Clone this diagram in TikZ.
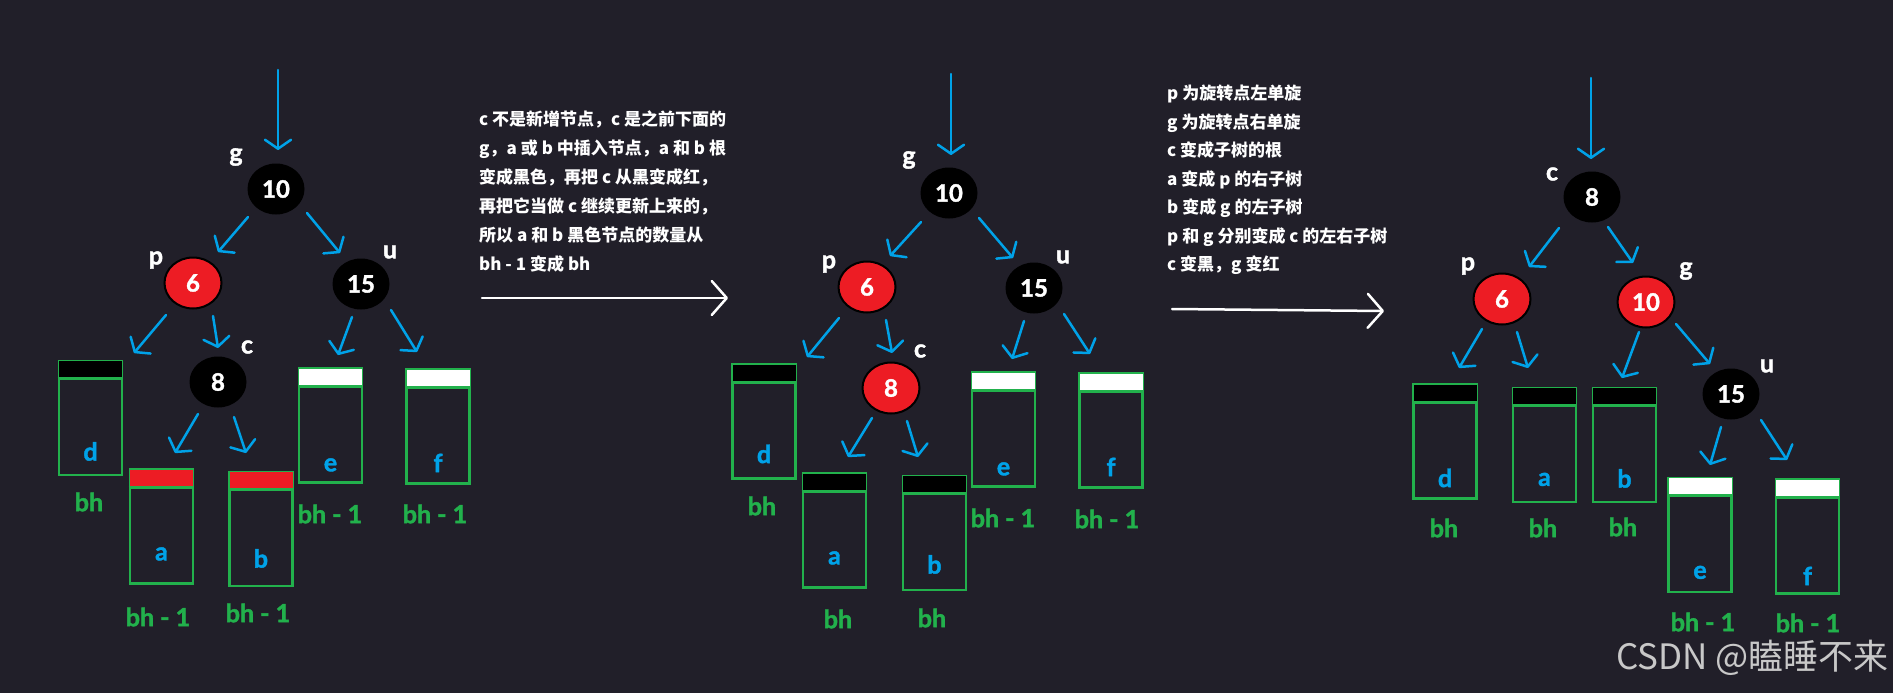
\documentclass[tikz,border=0pt]{standalone}
\usepackage{fontspec}
\setmainfont{Lato}[BoldFeatures={FakeBold=1.6}]
\newfontfamily\cjk{Noto Sans CJK SC}
\usetikzlibrary{shapes.geometric,arrows.meta,calc}
\definecolor{bgc}{RGB}{33,31,41}
\definecolor{pblue}{RGB}{0,162,232}
\definecolor{pred}{RGB}{237,28,36}
\definecolor{pgreen}{RGB}{34,177,76}
\definecolor{wmark}{RGB}{200,200,200}
\newcommand\mkleaf[8]{%
  \node[leafbox] (#1) at (#2,#3) {};
  \fill[#4] ([xshift=1.4pt,yshift=-1.4pt]#1.north west) rectangle ([xshift=-1.4pt,yshift=-19pt]#1.north east);
  \draw[boxline] ([yshift=-19pt]#1.north west) -- ([yshift=-19pt]#1.north east);
  \node[leaflab] (#1-l) at ([yshift=#6pt]#1.south) {#5};
  \node[bhlab] (#1-bh) at #8 {#7};
}
\begin{document}
\begin{tikzpicture}[x=1pt,y=-1pt,
  rbnode/.style={ellipse, minimum width=57pt, minimum height=51pt, inner sep=0pt, text=white, font=\fontsize{24}{24}\selectfont\bfseries},
  blacknode/.style={rbnode, fill=black},
  rednode/.style={rbnode, fill=pred, draw=black, line width=2pt},
  nlab/.style={text=white, font=\fontsize{25}{25}\selectfont\bfseries, inner sep=0pt},
  leafbox/.style={rectangle, draw=pgreen, line width=2.8pt, minimum width=63pt, minimum height=114pt, inner sep=0pt},
  boxline/.style={draw=pgreen, line width=2.8pt},
  leaflab/.style={text=pblue, font=\fontsize{25}{25}\selectfont\bfseries, inner sep=0pt},
  bhlab/.style={text=pgreen, font=\fontsize{25}{25}\selectfont\bfseries, inner sep=0pt},
  arr/.style={draw=pblue, line width=2.5pt, line cap=round, -{Straight Barb[length=9pt,width=26pt,round]}},
  warr/.style={draw=white, line width=2.5pt, line cap=round, -{Straight Barb[length=15pt,width=34pt,round]}},
  note/.style={text=white, align=left, inner sep=0pt, font=\cjk\bfseries\fontsize{17}{29}\selectfont}
]
\fill[bgc] (0,0) rectangle (1893,693);
\useasboundingbox (0,0) rectangle (1893,693);

% ---------------- Tree 1 ----------------
\node[blacknode] (g1) at (276,189) {10};
\node[rednode] (p1) at (193,283) {6};
\node[blacknode] (u1) at (361,284) {15};
\node[blacknode] (c1) at (218,382) {8};
\node[nlab] (g1l) at (236,157) {g};
\node[nlab] (p1l) at (156,260) {p};
\node[nlab] (u1l) at (390,252) {u};
\node[nlab] (c1l) at (247,347) {c};
\mkleaf{d1}{90.5}{418}{black}{d}{25}{bh}{(89,502)}
\mkleaf{a1}{161.5}{526.5}{pred}{a}{31}{bh - 1}{(158,617)}
\mkleaf{b1}{261}{529}{pred}{b}{29}{bh - 1}{(258,613)}
\mkleaf{e1}{330.5}{425.5}{white}{e}{19}{bh - 1}{(330,514)}
\mkleaf{f1}{438}{426.5}{white}{f}{22}{bh - 1}{(435,514)}
\coordinate (t1) at (278,70);
\draw[arr] (t1) -- ($(g1)+(2,-39)$);
\draw[arr] ($(g1)+(-28,28)$) -- ($(p1)+(25,-31)$);
\draw[arr] ($(g1)+(31,24)$) -- ($(u1)+(-21,-31)$);
\draw[arr] ($(p1)+(-27,32)$) -- ($(d1)+(43.5,-65)$);
\draw[arr] ($(p1)+(20,33)$) -- ($(c1)+(0,-34)$);
\draw[arr] ($(u1)+(-9,33)$) -- ($(e1)+(7.5,-70.5)$);
\draw[arr] ($(u1)+(30,26)$) -- ($(f1)+(-21,-74.5)$);
\draw[arr] ($(c1)+(-20,32)$) -- ($(a1)+(13.5,-73.5)$);
\draw[arr] ($(c1)+(16,35)$) -- ($(b1)+(-15,-76)$);

% ---------------- Text 1 ----------------
\node[note, anchor=north west] (txt1) at (479,110) {c 不是新增节点，c 是之前下面的\\g，a 或 b 中插入节点，a 和 b 根\\变成黑色，再把 c 从黑变成红，\\再把它当做 c 继续更新上来的，\\所以 a 和 b 黑色节点的数量从\\bh - 1 变成 bh};
\coordinate (w1s) at (482,298);
\coordinate (w1e) at (728,298);
\draw[warr] (w1s) -- (w1e);

% ---------------- Tree 2 ----------------
\node[blacknode] (g2) at (949,193) {10};
\node[rednode] (p2) at (867,287) {6};
\node[blacknode] (u2) at (1034,288) {15};
\node[rednode] (c2) at (891,388) {8};
\node[nlab] (g2l) at (909,160) {g};
\node[nlab] (p2l) at (829,264) {p};
\node[nlab] (u2l) at (1063,257) {u};
\node[nlab] (c2l) at (920,351) {c};
\mkleaf{d2}{764}{421.5}{black}{d}{26}{bh}{(762,506)}
\mkleaf{a2}{834.5}{530.5}{black}{a}{31}{bh}{(838,619)}
\mkleaf{b2}{934.5}{533}{black}{b}{27}{bh}{(932,618)}
\mkleaf{e2}{1003.5}{429.5}{white}{e}{19}{bh - 1}{(1003,518)}
\mkleaf{f2}{1111}{430.5}{white}{f}{22}{bh - 1}{(1107,519)}
\coordinate (t2) at (951,74);
\draw[arr] (t2) -- ($(g2)+(2,-38)$);
\draw[arr] ($(g2)+(-28,29)$) -- ($(p2)+(23,-31)$);
\draw[arr] ($(g2)+(30,25)$) -- ($(u2)+(-21,-30)$);
\draw[arr] ($(p2)+(-28,31)$) -- ($(d2)+(43,-64.5)$);
\draw[arr] ($(p2)+(19,33)$) -- ($(c2)+(1,-35)$);
\draw[arr] ($(u2)+(-10,33)$) -- ($(e2)+(8.5,-70.5)$);
\draw[arr] ($(u2)+(30,26)$) -- ($(f2)+(-21,-76.5)$);
\draw[arr] ($(c2)+(-19,30)$) -- ($(a2)+(13.5,-73.5)$);
\draw[arr] ($(c2)+(16,33)$) -- ($(b2)+(-16.5,-76)$);

% ---------------- Text 2 ----------------
\node[note, anchor=north west, font=\cjk\bfseries\fontsize{17}{28.5}\selectfont] (txt2) at (1167,85) {p 为旋转点左单旋\\g 为旋转点右单旋\\c 变成子树的根\\a 变成 p 的右子树\\b 变成 g 的左子树\\p 和 g 分别变成 c 的左右子树\\c 变黑，g 变红};
\coordinate (w2s) at (1172,309);
\coordinate (w2e) at (1384,311);
\draw[warr] (w2s) -- (w2e);

% ---------------- Tree 3 ----------------
\node[blacknode] (c3) at (1592,197) {8};
\node[rednode] (p3) at (1502,299) {6};
\node[rednode] (g3) at (1646,302) {10};
\node[blacknode] (u3) at (1731,394) {15};
\node[nlab] (c3l) at (1552,174) {c};
\node[nlab] (p3l) at (1468,266) {p};
\node[nlab] (g3l) at (1686,271) {g};
\node[nlab] (u3l) at (1767,366) {u};
\mkleaf{d3}{1445}{441.5}{black}{d}{22}{bh}{(1444,528)}
\mkleaf{a3}{1544.5}{445}{black}{a}{24}{bh}{(1543,528)}
\mkleaf{b3}{1624.5}{445}{black}{b}{25}{bh}{(1623,527)}
\mkleaf{e3}{1700}{535}{white}{e}{21}{bh - 1}{(1703,622)}
\mkleaf{f3}{1807.5}{536.5}{white}{f}{19}{bh - 1}{(1808,623)}
\coordinate (t3) at (1591,78);
\draw[arr] (t3) -- ($(c3)+(-1,-38)$);
\draw[arr] ($(c3)+(-33,31)$) -- ($(p3)+(27,-32)$);
\draw[arr] ($(c3)+(16,30)$) -- ($(g3)+(-13,-39)$);
\draw[arr] ($(p3)+(-20,30)$) -- ($(d3)+(14,-73.5)$);
\draw[arr] ($(p3)+(15,33)$) -- ($(a3)+(-16.5,-77)$);
\draw[arr] ($(g3)+(-7,30)$) -- ($(b3)+(-2.5,-67)$);
\draw[arr] ($(g3)+(30,22)$) -- ($(u3)+(-21,-30)$);
\draw[arr] ($(u3)+(-10,33)$) -- ($(e3)+(10,-70)$);
\draw[arr] ($(u3)+(30,26)$) -- ($(f3)+(-20.5,-76.5)$);

% ---------------- Watermark ----------------
\node[anchor=east, text=wmark, inner sep=0pt, font=\cjk\fontsize{35}{35}\selectfont] (wm) at (1889,658) {CSDN @瞌睡不来};
\end{tikzpicture}
\end{document}
